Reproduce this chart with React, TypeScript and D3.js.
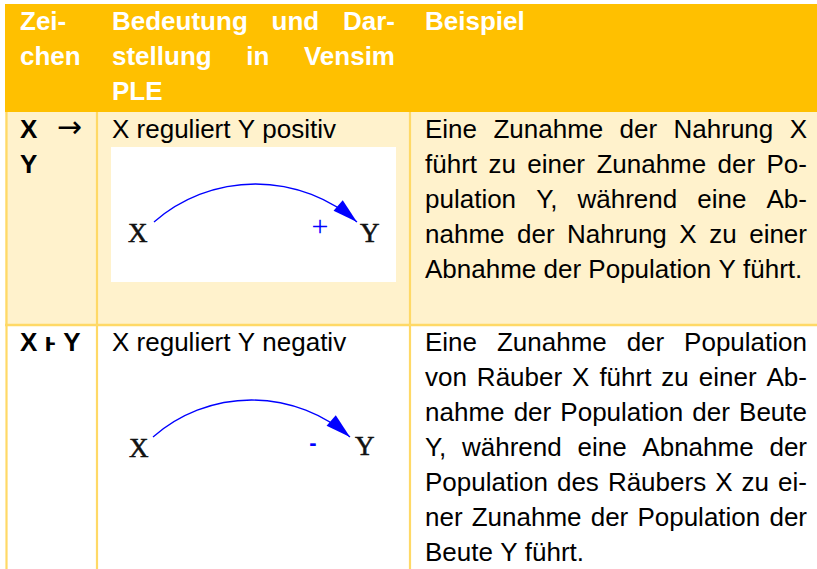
import * as d3 from "d3";
import { useEffect, useRef } from "react";

const width = 817;
const height = 569;

// table grid
const colEdges = [5, 97, 410, 832];
const rowEdges = [4, 112, 325, 620];

const headerCells = [
  ["Zei-", "chen"],
  ["Bedeutung und Dar-", "stellung in Vensim", "PLE"],
  ["Beispiel"],
];
const symbols = [["X →", "Y"], ["X ⱶ Y"]];
const meanings = ["X reguliert Y positiv", "X reguliert Y negativ"];
const examples = [
  [
    "Eine Zunahme der Nahrung X",
    "führt zu einer Zunahme der Po-",
    "pulation Y, während eine Ab-",
    "nahme der Nahrung X zu einer",
    "Abnahme der Population Y führt.",
  ],
  [
    "Eine Zunahme der Population",
    "von Räuber X führt zu einer Ab-",
    "nahme der Population der Beute",
    "Y, während eine Abnahme der",
    "Population des Räubers X zu ei-",
    "ner Zunahme der Population der",
    "Beute Y führt.",
  ],
];
const signs = ["+", "-"];
const nodeNames = ["X", "Y"];
const rowFills = ["#FFF2CC", "#FFFFFF"];

// Vensim diagram layout, relative to the top-left of the meaning cell
const arcFrom = [[57, 110], [56, 112]];
const arcTo = [[260, 110], [253, 112]];
const arcSag = [38, 37];
const labelX = [[31, 130], [32, 132]];
const labelY = [[263, 130], [258, 130]];
const signPos = [[223, 113], [216, 117]];

const SANS = "'Liberation Sans', Arial, 'DejaVu Sans', sans-serif";
const SERIF = "'Liberation Serif', 'Times New Roman', serif";
const FS = 26;
const LH = 35;
const PAD = 15;

export default function App() {
  const svgRef = useRef<SVGSVGElement | null>(null);

  useEffect(() => {
    const svg = d3.select(svgRef.current);
    svg.selectAll("*").remove();

    const x = d3.scaleOrdinal<number, number>().domain([0, 1, 2, 3]).range(colEdges);
    const y = d3.scaleOrdinal<number, number>().domain([0, 1, 2, 3]).range(rowEdges);

    // backgrounds
    svg.append("rect").attr("x", x(0)).attr("y", y(0))
      .attr("width", width - x(0)).attr("height", y(1) - y(0)).attr("fill", "#FFC000");
    rowFills.forEach((f, r) => {
      svg.append("rect").attr("x", x(0)).attr("y", y(r + 1))
        .attr("width", width - x(0)).attr("height", y(r + 2) - y(r + 1)).attr("fill", f);
    });

    // borders
    const border = "#FFD966";
    [0, 1, 2].forEach(c => {
      const xx = c === 0 ? x(0) + 1.5 : x(c);
      svg.append("line").attr("x1", xx).attr("x2", xx).attr("y1", y(1)).attr("y2", height)
        .attr("stroke", border).attr("stroke-width", 2.2);
    });
    svg.append("line").attr("x1", x(0)).attr("x2", width).attr("y1", y(2)).attr("y2", y(2))
      .attr("stroke", border).attr("stroke-width", 2.5);

    function drawLines(
      lines: string[], left: number, top: number, w: number, justify: boolean,
      fill: string, weight: string
    ) {
      const g = svg.append("g");
      lines.forEach((line, i) => {
        const words = line.split(" ");
        const base = top + 25.5 + i * LH;
        const texts = words.map(word => {
          const arrow = word === "→";
          return g.append("text")
            .attr("y", arrow ? base - 1 : base)
            .attr("font-family", arrow ? "'DejaVu Sans', sans-serif" : SANS)
            .attr("font-size", arrow ? 30 : FS)
            .attr("font-weight", arrow ? "normal" : weight)
            .attr("fill", fill)
            .text(word);
        });
        const lens = texts.map(t => (t.node() as SVGTextElement).getComputedTextLength());
        const total = d3.sum(lens);
        let gap = FS * 0.278;
        if (justify && i < lines.length - 1 && words.length > 1) {
          gap = (w - total) / (words.length - 1);
        }
        let cx = left;
        texts.forEach((t, k) => {
          t.attr("x", cx);
          cx += lens[k] + gap;
        });
      });
    }

    // header
    headerCells.forEach((lines, c) => {
      const l = x(c) + PAD;
      const w = x(c + 1) - x(c) - 2 * PAD;
      drawLines(lines, l, y(0), w, true, "#FFFFFF", "bold");
    });

    // body rows
    symbols.forEach((lines, r) => {
      drawLines(lines, x(0) + PAD, y(r + 1), x(1) - x(0) - 2 * PAD, true, "#000000", "bold");
    });
    meanings.forEach((m, r) => {
      drawLines([m], x(1) + PAD, y(r + 1), 0, false, "#000000", "normal");
    });
    examples.forEach((lines, r) => {
      drawLines(lines, x(2) + PAD, y(r + 1), x(3) - x(2) - 2 * PAD - 10, true, "#000000", "normal");
    });

    // Vensim diagrams
    const blue = "#0000FF";
    signs.forEach((sign, r) => {
      const g = svg.append("g").attr("transform", `translate(${x(1)},${y(r + 1)})`);
      if (r === 0) {
        g.append("rect").attr("x", 14).attr("y", 35).attr("width", 285).attr("height", 135)
          .attr("fill", "#FFFFFF");
      }
      const [x0, y0] = arcFrom[r];
      const [x1, y1] = arcTo[r];
      const s = arcSag[r];
      const chord = x1 - x0;
      const rad = (chord * chord / 4 + s * s) / (2 * s);
      g.append("path")
        .attr("d", `M${x0},${y0} A${rad},${rad} 0 0 1 ${x1},${y1}`)
        .attr("fill", "none").attr("stroke", blue).attr("stroke-width", 1.3);
      // arrowhead along the tangent at the end point
      const cx = (x0 + x1) / 2;
      const cy = y0 + (rad - s);
      const ang = Math.atan2(y1 - cy, x1 - cx) + Math.PI / 2;
      const len = 25, hw = 7;
      const bx = x1 - len * Math.cos(ang), by = y1 - len * Math.sin(ang);
      const px = -Math.sin(ang) * hw, py = Math.cos(ang) * hw;
      g.append("path")
        .attr("d", `M${x1},${y1} L${bx + px},${by + py} L${bx - px},${by - py} Z`)
        .attr("fill", blue);

      [labelX[r], labelY[r]].forEach((p, k) => {
        g.append("text").attr("x", p[0]).attr("y", p[1])
          .attr("font-family", SERIF).attr("font-size", 27).attr("fill", "#111")
          .attr("stroke", "#111").attr("stroke-width", 0.6)
          .text(nodeNames[k]);
      });
      g.append("text").attr("x", signPos[r][0]).attr("y", signPos[r][1])
        .attr("text-anchor", "middle").attr("dominant-baseline", "central")
        .attr("font-family", sign === "+" ? SERIF : SANS)
        .attr("font-size", sign === "+" ? 30 : 22)
        .attr("font-weight", sign === "+" ? "normal" : "bold")
        .attr("fill", blue)
        .text(sign);
    });
  }, []);

  return (
    <svg
      ref={svgRef}
      width={width}
      height={height}
      style={{ position: "absolute", left: 0, top: 0, background: "#fff" }}
    ></svg>
  );
}
